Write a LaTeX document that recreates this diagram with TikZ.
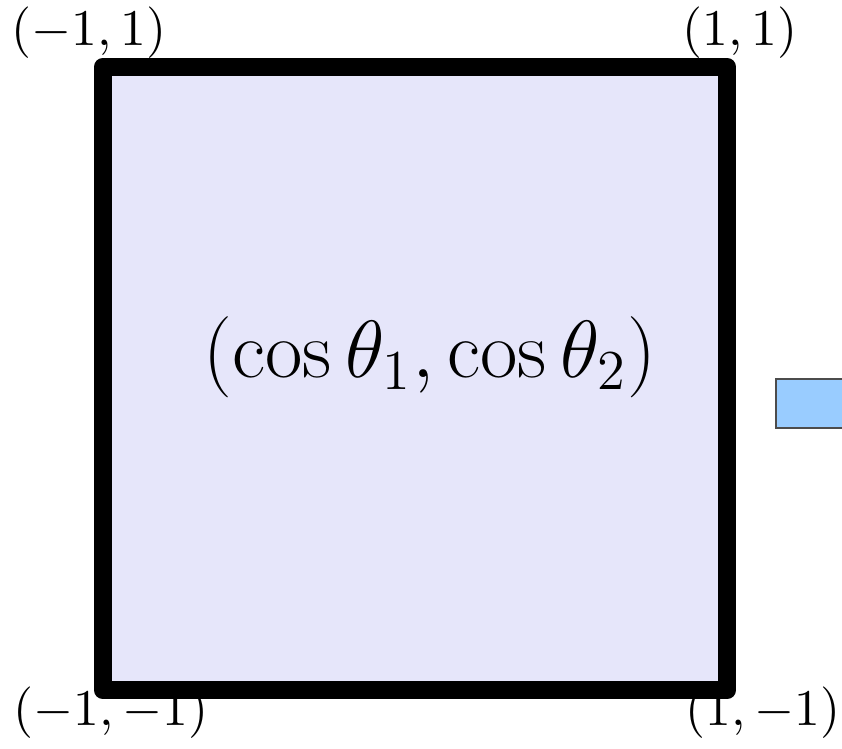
\documentclass[tikz,border=0pt]{standalone}
\definecolor{squarefill}{RGB}{230,230,250}
\definecolor{boxblue}{RGB}{153,204,255}
\begin{document}
\begin{tikzpicture}[x=0.2128pt,y=-0.2128pt,
  corner/.style={inner sep=0pt,font=\fontsize{11.1}{13}\selectfont},
  frame/.style={draw=black,fill=squarefill,line width=4pt,line join=round}]
\useasboundingbox (0,0) rectangle (842,749);
\clip (0,0) rectangle (842,749);
\draw[frame] (103,67) rectangle (727,690);
\node[font=\fontsize{17}{20}\selectfont] (c) at (430,357) {$(\cos\theta_1,\cos\theta_2)$};
\node[corner] (tl) at (89,33) {$(-1,1)$};
\node[corner] (tr) at (740,33) {$(1,1)$};
\node[corner] (bl) at (111,713) {$(-1,-1)$};
\node[corner] (br) at (763,713) {$(1,-1)$};
\node[draw=black!70,fill=boxblue,line width=0.4pt,minimum width=20pt,minimum height=49*0.2128pt,inner sep=0pt,anchor=north west] (b) at (775,378) {};
\end{tikzpicture}
\end{document}
